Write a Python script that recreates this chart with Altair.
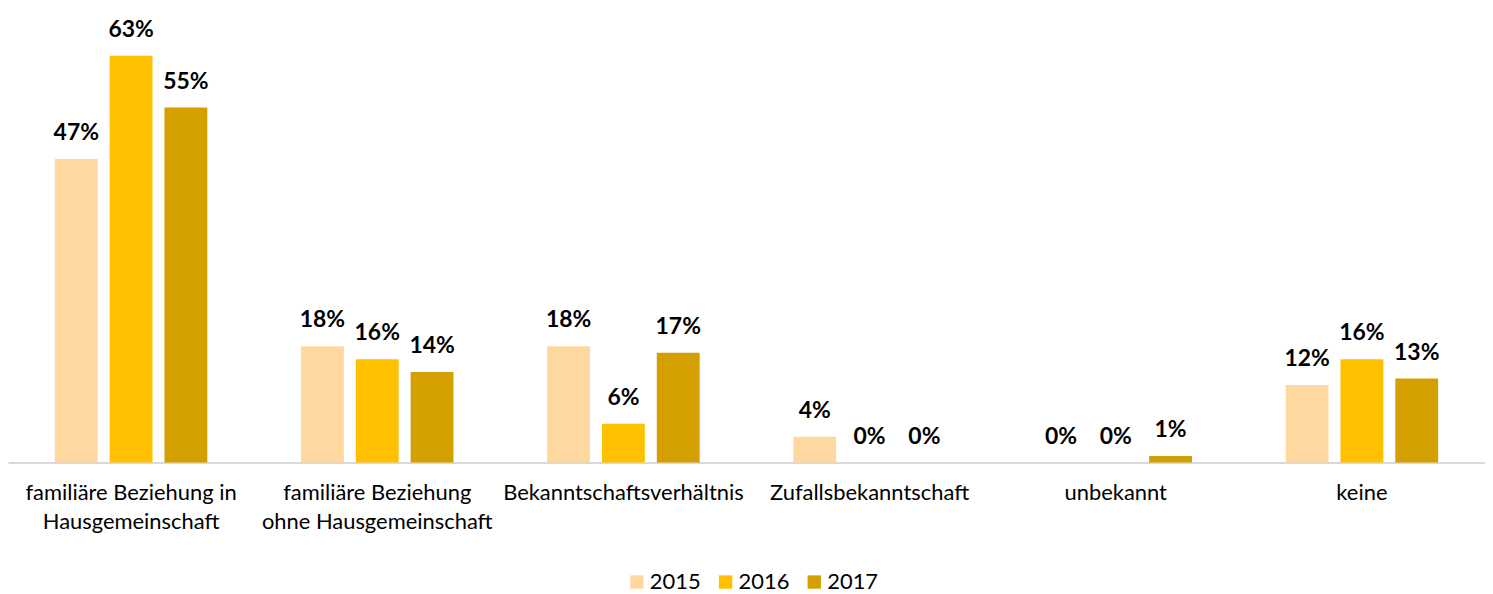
import altair as alt
import pandas as pd

categories = [
    "familiäre Beziehung in|Hausgemeinschaft",
    "familiäre Beziehung|ohne Hausgemeinschaft",
    "Bekanntschaftsverhältnis",
    "Zufallsbekanntschaft",
    "unbekannt",
    "keine",
]
years = ["2015", "2016", "2017"]
values_2015 = [47, 18, 18, 4, 0, 12]
values_2016 = [63, 16, 6, 0, 0, 16]
values_2017 = [55, 14, 17, 0, 1, 13]
colors = ["#FFD8A0", "#FFC000", "#D4A000"]

rows = []
for yr, vals in zip(years, [values_2015, values_2016, values_2017]):
    for c, v in zip(categories, vals):
        rows.append({"Kategorie": c, "Jahr": yr, "Wert": v, "Label": f"{v}%"})
df = pd.DataFrame(rows)

FONT = "Lato"

x_enc = alt.X(
    "Kategorie:N",
    sort=categories,
    scale=alt.Scale(paddingInner=0.332, paddingOuter=0.166),
    axis=alt.Axis(
        title=None,
        labelAngle=0,
        ticks=False,
        domainColor="#D9D9D9",
        domainWidth=2,
        labelFontSize=22,
        labelFont=FONT,
        labelColor="#000000",
        labelPadding=20,
        labelLineHeight=29,
        labelLimit=0,
        labelExpr="split(datum.label, '|')",
    ),
)
xo_enc = alt.XOffset(
    "Jahr:N",
    sort=years,
    scale=alt.Scale(paddingInner=0.218, paddingOuter=0.109),
)
y_enc = alt.Y("Wert:Q", scale=alt.Scale(domain=[0, 70.26], nice=False, zero=True), axis=None)

bars = alt.Chart(df).mark_bar().encode(
    x=x_enc,
    xOffset=xo_enc,
    y=y_enc,
    color=alt.Color(
        "Jahr:N",
        sort=years,
        scale=alt.Scale(domain=years, range=colors),
        legend=alt.Legend(
            title=None,
            orient="none",
            direction="horizontal",
            legendX=620,
            legendY=564,
            symbolType="square",
            symbolSize=180,
            symbolStrokeWidth=0,
            labelFontSize=22,
            labelFont=FONT,
            labelColor="#000000",
            columnPadding=13,
            labelOffset=2,
        ),
    ),
)

labels = alt.Chart(df).mark_text(
    baseline="alphabetic", dy=-19, fontSize=23, fontWeight="bold", font=FONT, color="#000000"
).encode(
    x=alt.X("Kategorie:N", sort=categories),
    xOffset=alt.XOffset("Jahr:N", sort=years),
    y=alt.Y("Wert:Q"),
    text="Label:N",
)

chart = (
    alt.layer(bars, labels)
    .properties(width=1482, height=455, padding=0)
    .configure_view(stroke=None)
)

chart.save("out.html", embed_options={"renderer": "svg", "actions": False})
